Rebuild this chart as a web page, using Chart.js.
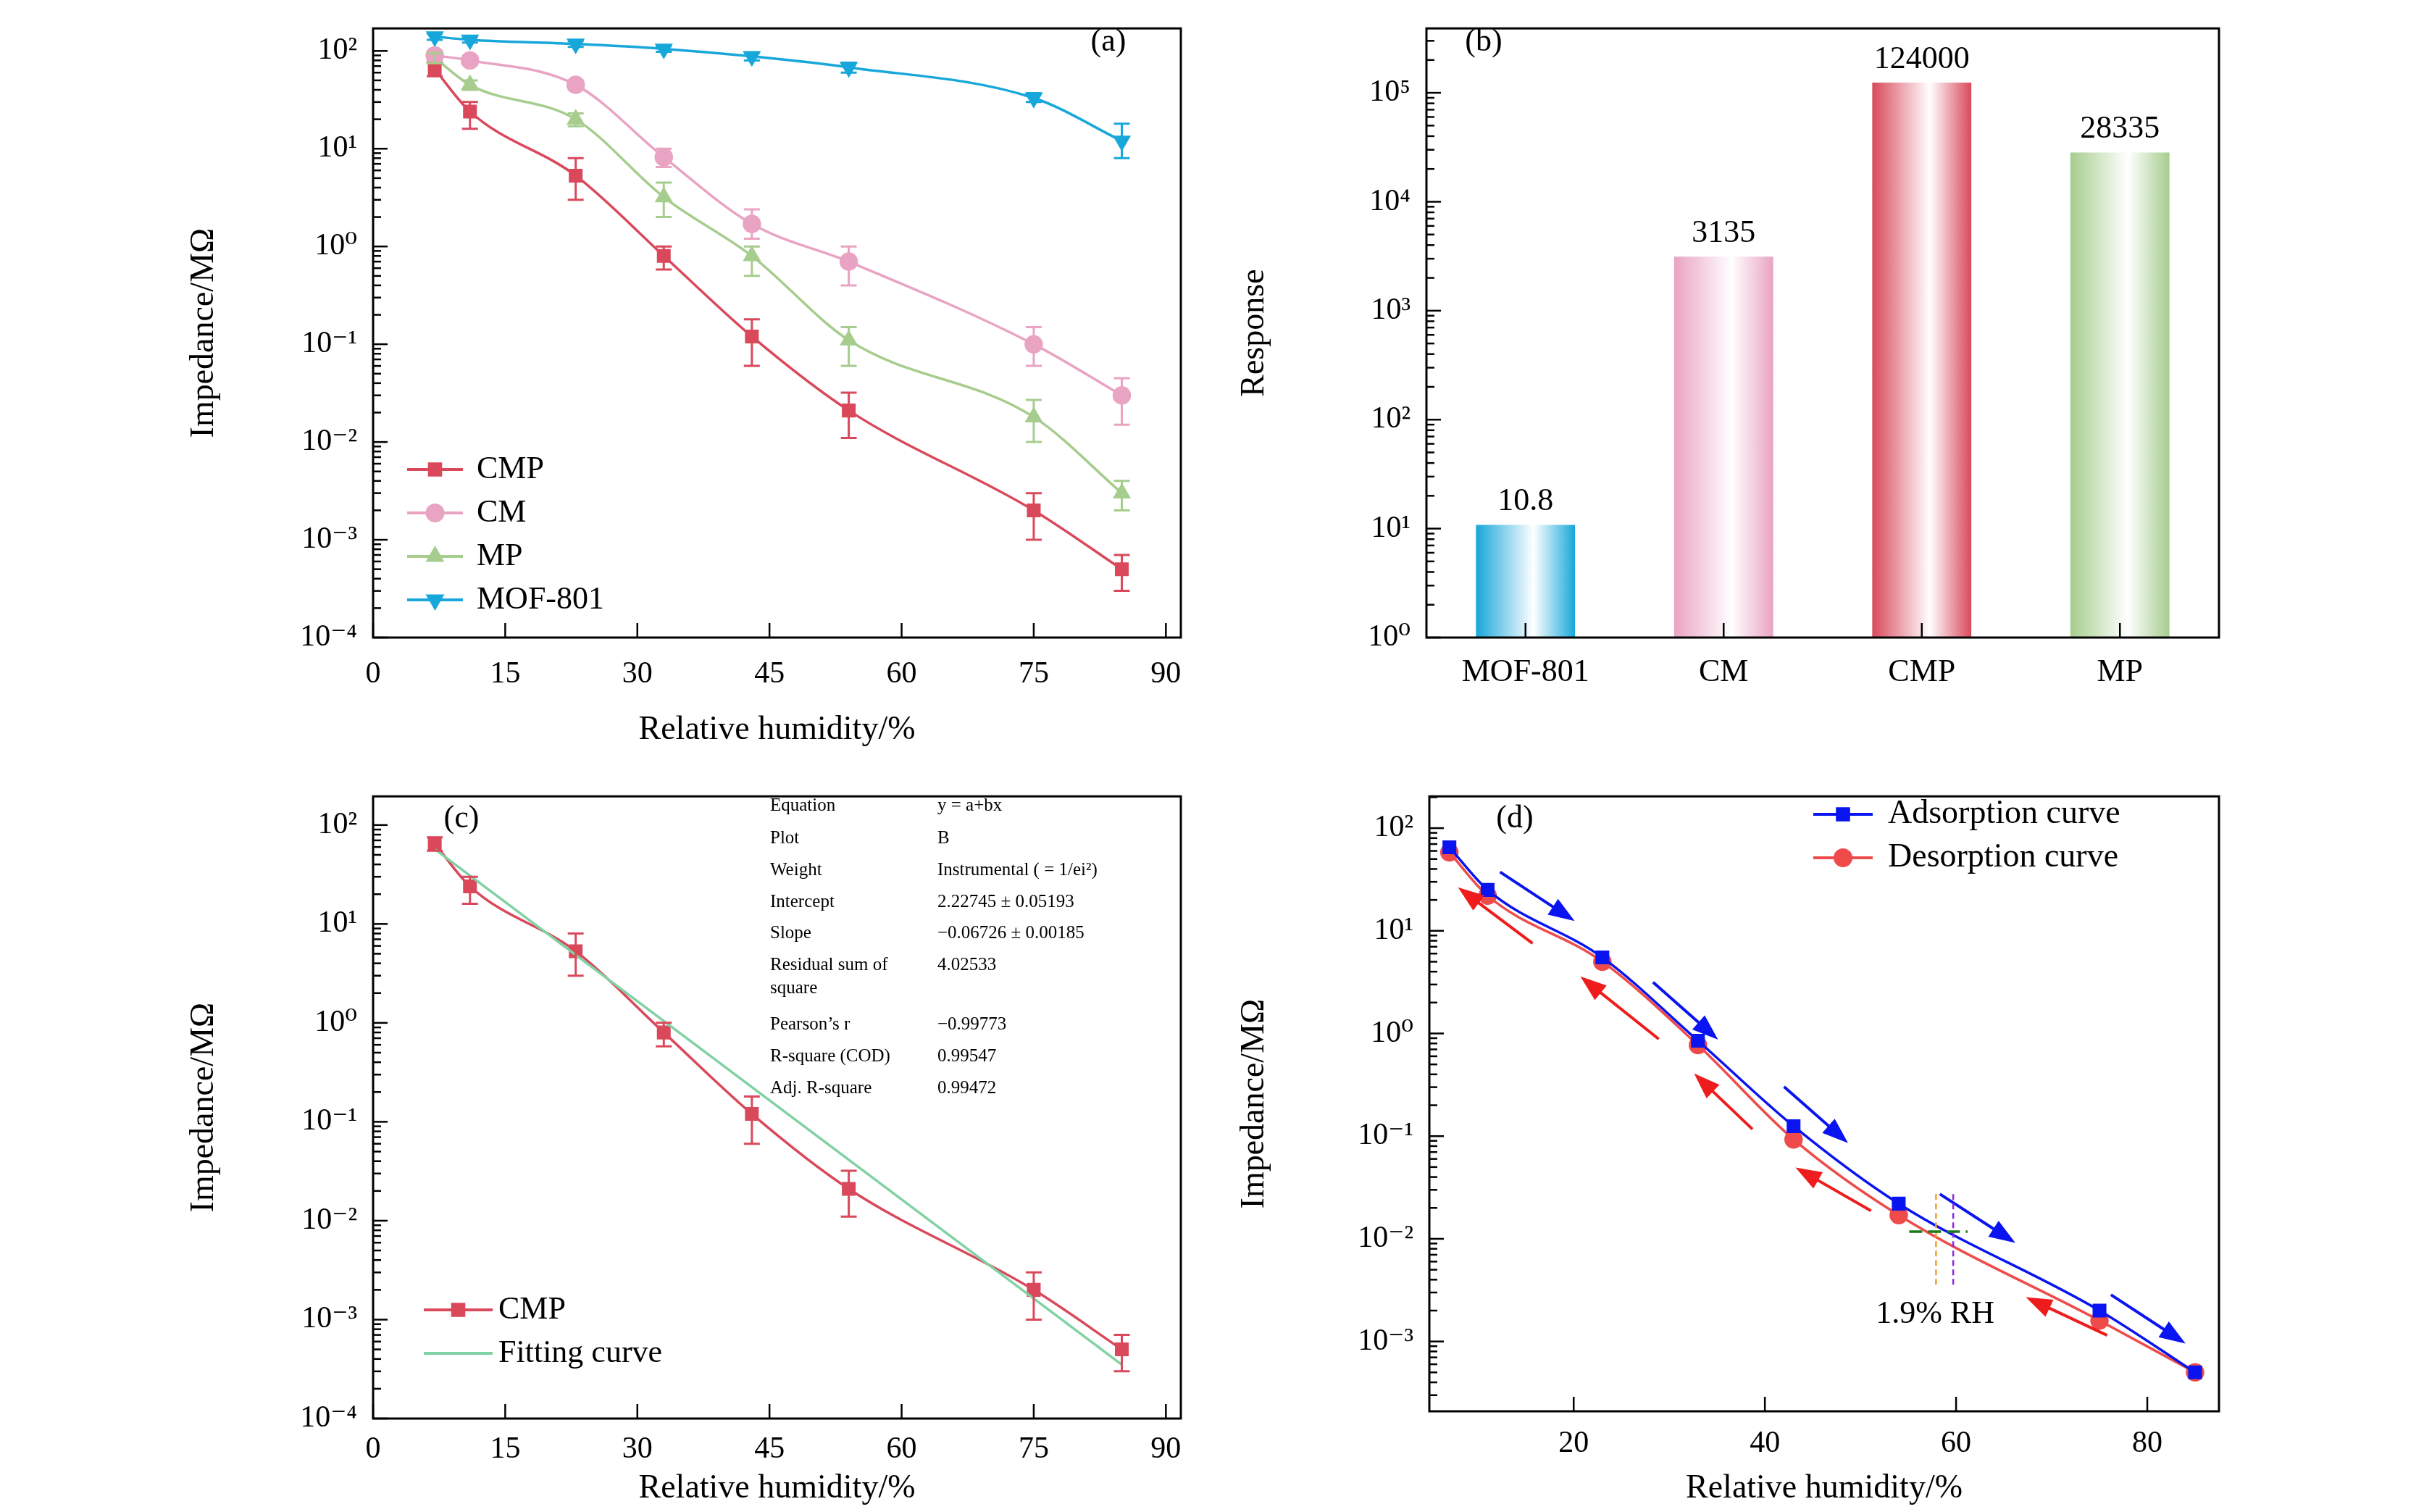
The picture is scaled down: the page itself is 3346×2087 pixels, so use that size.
<!DOCTYPE html>
<html><head><meta charset="utf-8">
<script src="https://cdn.jsdelivr.net/npm/chart.js@4"></script>
<style>body{margin:0;background:#fff;width:3346px;height:2087px;position:relative;overflow:hidden}canvas{position:absolute}</style>
</head><body>
<canvas id="ca" width="1420" height="1040" style="left:250px;top:0"></canvas>
<canvas id="cb" width="1400" height="1040" style="left:1700px;top:0"></canvas>
<canvas id="cc" width="1420" height="1027" style="left:250px;top:1060px"></canvas>
<canvas id="cd" width="1400" height="1027" style="left:1700px;top:1060px"></canvas>
<script>
// ---- data ----
const rh = [7, 11, 23, 33, 43, 54, 75, 85];
const cmp = [65, 24, 5.3, 0.8, 0.12, 0.021, 0.002, 0.0005];
const cmpLo = [55, 16, 3, 0.58, 0.06, 0.011, 0.001, 0.0003];
const cmpHi = [75, 30, 8, 1.0, 0.18, 0.032, 0.003, 0.0007];
const cm = [90, 80, 45, 8.2, 1.7, 0.7, 0.1, 0.03];
const cmLo = [80, 72, 40, 6.5, 1.2, 0.4, 0.06, 0.015];
const cmHi = [100, 88, 50, 10, 2.4, 1.0, 0.15, 0.045];
const mp = [85, 45, 20, 3.2, 0.8, 0.11, 0.018, 0.003];
const mpLo = [75, 40, 17, 2.0, 0.5, 0.06, 0.01, 0.002];
const mpHi = [95, 50, 23, 4.5, 1.0, 0.15, 0.027, 0.004];
const mof = [140, 130, 118, 105, 88, 68, 33, 12];
const mofLo = [130, 122, 110, 98, 80, 60, 30, 8];
const mofHi = [150, 138, 126, 112, 96, 76, 37, 18];
const materials = ['MOF-801', 'CM', 'CMP', 'MP'];
const responses = [10.8, 3135, 124000, 28335];
const responseLabels = ['10.8', '3135', '124000', '28335'];
const fitX = [7, 85];
const fitY = [57, 0.00035];
const adsX = [7, 11, 23, 33, 43, 54, 75, 85];
const adsY = [65, 25, 5.5, 0.85, 0.125, 0.022, 0.002, 0.0005];
const desX = [7, 11, 23, 33, 43, 54, 75, 85];
const desY = [58, 22, 5, 0.77, 0.093, 0.017, 0.0016, 0.0005];
const tableKeys = ['Equation','Plot','Weight','Intercept','Slope','Residual sum of','square','Pearson\u2019s r','R-square (COD)','Adj. R-square'];
const tableVals = ['y = a+bx','B','Instrumental ( = 1/ei\u00B2)','2.22745 \u00B1 0.05193','\u22120.06726 \u00B1 0.00185','4.02533','','\u22120.99773','0.99547','0.99472'];
// arrows in panel d: [x0, log y0, x1, log y1]
const blueArrows = [[12.3,1.573,20.1,1.095],[28.3,0.5,35.1,-0.06],[42,-0.518,48.7,-1.068],[58.3,-1.564,66.2,-2.04],[76.2,-2.545,84,-3.02]];
const redArrows = [[15.7,0.877,7.9,1.423],[28.9,-0.055,20.7,0.555],[38.7,-0.932,32.6,-0.39],[51.1,-1.727,43.2,-1.305],[75.8,-2.94,67.3,-2.568]];

const C = {cmp:'#d9495b', cm:'#e9a3c3', mp:'#a6cd8e', mof:'#17a7da', fit:'#80d2a4', ads:'#0a14f0', des:'#ef4b4b'};
const FONT = '"Liberation Serif", "DejaVu Serif", serif';
const sup = n => String(n).split('').map(c => ({'-':'\u207B','0':'\u2070','1':'\u00B9','2':'\u00B2','3':'\u00B3','4':'\u2074','5':'\u2075','6':'\u2076','7':'\u2077','8':'\u2078','9':'\u2079'})[c]).join('');
Chart.defaults.font.family = FONT;
Chart.defaults.color = '#000';

function logAxis(minE, maxV, width, title, loE, hiE) {
  return {type:'logarithmic', min: Math.pow(10, minE), max: maxV,
    afterBuildTicks: a => { const t=[]; for (let e=loE;e<=hiE;e++) t.push({value:Math.pow(10,e)}); a.ticks=t; },
    afterFit: s => { s.width = width; },
    ticks:{font:{size:42}, padding:14, callback: v => '10' + sup(Math.round(Math.log10(v)))},
    grid:{display:false}, border:{display:false},
    title:{display:true, text:title, font:{size:46}, padding:{bottom:8}}};
}
function linAxis(min, max, ticks, height, title) {
  return {type:'linear', min, max,
    afterBuildTicks: a => { a.ticks = ticks.map(v => ({value:v})); },
    afterFit: s => { s.height = height; },
    ticks:{font:{size:42}, padding:18, maxRotation:0, callback: v => String(v)},
    grid:{display:false}, border:{display:false},
    title:{display:true, text:title, font:{size:46}, padding:{top:4}}};
}
const framePlugin = {id:'frame', afterDraw(chart) {
  const ctx = chart.ctx, a = chart.chartArea, fo = chart.options.plugins.frameOpts || {};
  ctx.save(); ctx.strokeStyle='#000'; ctx.lineWidth=3;
  ctx.strokeRect(a.left, a.top, a.right-a.left, a.bottom-a.top);
  const y = chart.scales.y, x = chart.scales.x;
  ctx.lineWidth = 2.5;
  if (y.type === 'logarithmic') {
    const lo = Math.floor(Math.log10(y.min)), hi = Math.ceil(Math.log10(y.max));
    for (let e=lo; e<=hi; e++) for (let k=1;k<10;k++) {
      const v = k*Math.pow(10,e); if (v < y.min*0.999 || v > y.max) continue;
      const p = y.getPixelForValue(v), L = k===1 ? 20 : 11;
      ctx.beginPath(); ctx.moveTo(a.left,p); ctx.lineTo(a.left+L,p); ctx.stroke();
    }
  }
  if (x.type === 'linear') {
    x.ticks.forEach(t => { const p = x.getPixelForValue(t.value);
      ctx.beginPath(); ctx.moveTo(p,a.bottom); ctx.lineTo(p,a.bottom-20); ctx.stroke(); });
  } else {
    x.ticks.forEach((t,i) => { const p = x.getPixelForValue(i);
      ctx.beginPath(); ctx.moveTo(p,a.bottom); ctx.lineTo(p,a.bottom-20); ctx.stroke(); });
  }
  if (fo.label) { ctx.font = '44px ' + FONT; ctx.fillStyle='#000'; ctx.textAlign='center'; ctx.textBaseline='middle';
    ctx.fillText(fo.label, fo.lx, fo.ly); }
  if (fo.legend) { ctx.font = (fo.legendSize||44) + 'px ' + FONT; ctx.textAlign='left'; ctx.textBaseline='middle';
    fo.legend.forEach(it => {
      ctx.strokeStyle = it.color; ctx.lineWidth = 4; ctx.beginPath(); ctx.moveTo(fo.lx0, it.y); ctx.lineTo(fo.lx1, it.y); ctx.stroke();
      if (it.ps) { ctx.fillStyle = it.color; Chart.helpers.drawPoint(ctx, {pointStyle: it.ps, radius: 11, rotation: it.rot||0, borderWidth: 1}, (fo.lx0+fo.lx1)/2, it.y); }
      ctx.fillStyle = '#000'; ctx.fillText(it.text, fo.tx, it.y);
    }); }
  ctx.restore();
}};
const errPlugin = {id:'err', afterDatasetsDraw(chart) {
  const ctx = chart.ctx, x = chart.scales.x, y = chart.scales.y;
  chart.data.datasets.forEach(ds => { if (!ds.lo) return;
    ctx.save(); ctx.strokeStyle = ds.borderColor; ctx.lineWidth = 3;
    ds.data.forEach((d,i) => { const px = x.getPixelForValue(d.x), p1 = y.getPixelForValue(ds.lo[i]), p2 = y.getPixelForValue(ds.hi[i]);
      ctx.beginPath(); ctx.moveTo(px,p1); ctx.lineTo(px,p2);
      ctx.moveTo(px-11,p1); ctx.lineTo(px+11,p1); ctx.moveTo(px-11,p2); ctx.lineTo(px+11,p2); ctx.stroke(); });
    ctx.restore(); });
}};
const pts = (xs, ys) => xs.map((v,i) => ({x:v, y:ys[i]}));
function lineDs(label, xs, ys, color, ps, lo, hi, rot) {
  return {label, data: pts(xs,ys), borderColor: color, backgroundColor: color, borderWidth: 3.5,
    pointStyle: ps, pointRadius: ps ? 11 : 0, pointRotation: rot||0, tension: 0.4, cubicInterpolationMode:'monotone', lo, hi};
}
const base = (pad) => ({responsive:false, animation:false, devicePixelRatio:1, layout:{padding:pad},
  plugins:{legend:{display:false}, tooltip:{enabled:false}}});

// ---- (a) ----
let oa = base({top:21, right:40});
oa.scales = {x: linAxis(0, 91.7, [0,15,30,45,60,75,90], 160, 'Relative humidity/%'), y: logAxis(-4, 170, 265, 'Impedance/M\u03A9', -4, 2)};
oa.plugins.frameOpts = {label:'(a)', lx:1280, ly:58, legend:[
  {text:'CMP', color:C.cmp, ps:'rect', y:648},{text:'CM', color:C.cm, ps:'circle', y:708},
  {text:'MP', color:C.mp, ps:'triangle', y:768},{text:'MOF-801', color:C.mof, ps:'triangle', rot:180, y:828}], lx0:312, lx1:389, tx:408};
new Chart(document.getElementById('ca'), {type:'line', data:{datasets:[
  lineDs('CMP', rh, cmp, C.cmp, 'rect', cmpLo, cmpHi), lineDs('CM', rh, cm, C.cm, 'circle', cmLo, cmHi),
  lineDs('MP', rh, mp, C.mp, 'triangle', mpLo, mpHi), lineDs('MOF-801', rh, mof, C.mof, 'triangle', mofLo, mofHi, 180)]},
  options: oa, plugins:[errPlugin, framePlugin]});

// ---- (b) ----
const barColors = [C.mof, C.cm, C.cmp, C.mp];
let ob = base({top:21, right:37});
ob.scales = {x:{type:'category', afterFit: s => { s.height = 160; }, ticks:{font:{size:44}, padding:14}, grid:{display:false}, border:{display:false}},
  y: logAxis(0, 390000, 269, 'Response', 0, 5)};
ob.scales.y.title.padding = {bottom:30};
ob.plugins.frameOpts = {label:'(b)', lx:2048-1700, ly:58};
const barLabelPlugin = {id:'barlab', afterDatasetsDraw(chart) {
  const ctx = chart.ctx; ctx.save(); ctx.font='44px '+FONT; ctx.fillStyle='#000'; ctx.textAlign='center'; ctx.textBaseline='bottom';
  chart.getDatasetMeta(0).data.forEach((b,i) => ctx.fillText(responseLabels[i], b.x, b.y - 10)); ctx.restore(); }};
new Chart(document.getElementById('cb'), {type:'bar', data:{labels: materials, datasets:[{data: responses,
  categoryPercentage:1, barPercentage:0.5,
  backgroundColor: c => { const ch = c.chart, xs = ch.scales.x; if (!xs || !ch.chartArea) return barColors[c.dataIndex];
    const cw = (ch.chartArea.right - ch.chartArea.left)/materials.length, px = xs.getPixelForValue(c.dataIndex), w = cw*0.25;
    const g = ch.ctx.createLinearGradient(px-w,0,px+w,0); g.addColorStop(0, barColors[c.dataIndex]); g.addColorStop(0.58,'#ffffff'); g.addColorStop(1, barColors[c.dataIndex]); return g; }}]},
  options: ob, plugins:[framePlugin, barLabelPlugin]});

// ---- (c) ----
let oc = base({top:19, right:40});
oc.scales = {x: linAxis(0, 91.7, [0,15,30,45,60,75,90], 129, 'Relative humidity/%'), y: logAxis(-4, 195, 265, 'Impedance/M\u03A9', -4, 2)};
oc.scales.x.ticks.padding = 10; oc.scales.x.title.padding = {top:0};
oc.plugins.frameOpts = {label:'(c)', lx:637-250, ly:70, legend:[
  {text:'CMP', color:C.cmp, ps:'rect', y:748},{text:'Fitting curve', color:C.fit, y:808}], lx0:335, lx1:430, tx:438};
const tablePlugin = {id:'tbl', afterDraw(chart) { const ctx = chart.ctx; ctx.save(); ctx.font='25px '+FONT; ctx.fillStyle='#000'; ctx.textBaseline='middle';
  const ys = [52,97,141,185,228,272,304,354,398,442];
  tableKeys.forEach((k,i) => { ctx.fillText(k, 813, ys[i]); ctx.fillText(tableVals[i], 1044, ys[i]); }); ctx.restore(); }};
new Chart(document.getElementById('cc'), {type:'line', data:{datasets:[
  lineDs('Fitting curve', fitX, fitY, C.fit, false), lineDs('CMP', rh, cmp, C.cmp, 'rect', cmpLo, cmpHi)]},
  options: oc, plugins:[errPlugin, framePlugin, tablePlugin]});
// ---- (d) ----
let od = base({top:19, right:37});
od.scales = {x: linAxis(4.9, 87.5, [20,40,60,80], 139, 'Relative humidity/%'), y: logAxis(-3.68, 204, 273, 'Impedance/M\u03A9', -3, 2)};
od.scales.x.ticks.padding = 12;
od.plugins.frameOpts = {label:'(d)', lx:2091-1700, ly:70, legendSize:46, legend:[
  {text:'Adsorption curve', color:C.ads, ps:'rect', y:64},{text:'Desorption curve', color:C.des, ps:'circle', y:124}], lx0:803, lx1:885, tx:906};
const arrowPlugin = {id:'arr', afterDatasetsDraw(chart) {
  const ctx = chart.ctx, x = chart.scales.x, y = chart.scales.y;
  const P = (xv, le) => [x.getPixelForValue(xv), y.getPixelForValue(Math.pow(10, le))];
  function arrow(a, col) { const [x0,y0] = P(a[0],a[1]), [x1,y1] = P(a[2],a[3]); const ang = Math.atan2(y1-y0, x1-x0);
    ctx.strokeStyle = col; ctx.fillStyle = col; ctx.lineWidth = 4;
    ctx.beginPath(); ctx.moveTo(x0,y0); ctx.lineTo(x1-20*Math.cos(ang), y1-20*Math.sin(ang)); ctx.stroke();
    ctx.beginPath(); ctx.moveTo(x1,y1); ctx.lineTo(x1-36*Math.cos(ang)+13*Math.sin(ang), y1-36*Math.sin(ang)-13*Math.cos(ang));
    ctx.lineTo(x1-36*Math.cos(ang)-13*Math.sin(ang), y1-36*Math.sin(ang)+13*Math.cos(ang)); ctx.closePath(); ctx.fill(); }
  ctx.save(); blueArrows.forEach(a => arrow(a, C.ads)); redArrows.forEach(a => arrow(a, '#ee1c1c'));
  ctx.setLineDash([8,5]); ctx.lineWidth = 2.5;
  let [ox,oy0] = P(57.9,-1.564), [, oy1] = P(57.9,-2.464);
  ctx.strokeStyle='#f0a030'; ctx.beginPath(); ctx.moveTo(ox,oy0); ctx.lineTo(ox,oy1); ctx.stroke();
  let [vx] = P(59.7,0); ctx.strokeStyle='#8a2be2'; ctx.beginPath(); ctx.moveTo(vx,oy0); ctx.lineTo(vx,oy1); ctx.stroke();
  ctx.setLineDash([18,8]); ctx.lineWidth = 3.5; let [gx0,gy] = P(55.1,-1.93), [gx1] = P(61.2,-1.93);
  ctx.strokeStyle='#1a7a1a'; ctx.beginPath(); ctx.moveTo(gx0,gy); ctx.lineTo(gx1,gy); ctx.stroke();
  ctx.setLineDash([]); ctx.font='44px '+FONT; ctx.fillStyle='#000'; ctx.textAlign='center'; ctx.textBaseline='middle';
  const [tx,ty] = P(57.8,-2.74); ctx.fillText('1.9% RH', tx, ty); ctx.restore(); }};
new Chart(document.getElementById('cd'), {type:'line', data:{datasets:[
  lineDs('Adsorption curve', adsX, adsY, C.ads, 'rect'), lineDs('Desorption curve', desX, desY, C.des, 'circle')]},
  options: od, plugins:[arrowPlugin, framePlugin]});
</script></body></html>
